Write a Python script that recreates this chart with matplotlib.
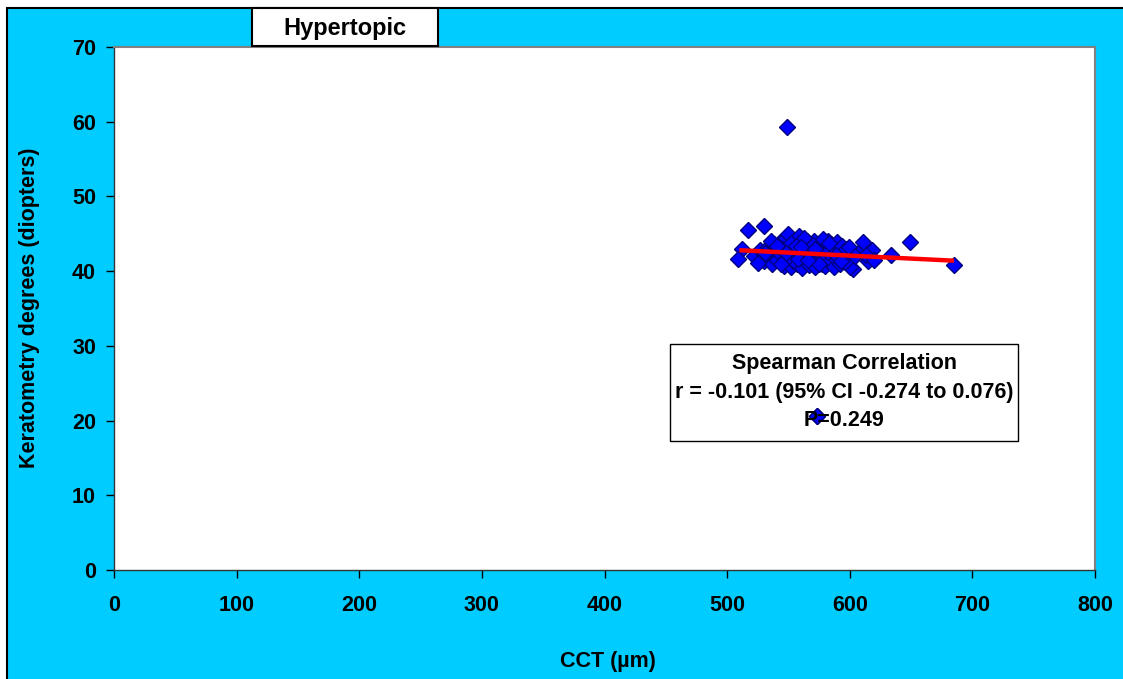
import matplotlib
matplotlib.use("Agg")
import matplotlib.pyplot as plt
from matplotlib.patches import Rectangle

plt.rcParams["font.family"] = ["Liberation Sans", "DejaVu Sans"]
plt.rcParams["font.weight"] = "bold"

# CCT (µm) vs keratometry (D), hypertopic group
cct = [549, 573, 517, 530, 512, 509, 649, 685, 634, 611, 618, 603, 615, 607,
       522, 527, 530, 533, 535, 537, 538, 540, 541, 543, 544, 546, 547, 548,
       549, 550, 551, 552, 553, 554, 555, 556, 557, 558, 559, 560, 561, 562,
       563, 564, 565, 566, 567, 568, 569, 570, 571, 572, 573, 574, 575, 576,
       577, 578, 579, 580, 581, 582, 583, 584, 585, 586, 587, 588, 589, 590,
       591, 592, 594, 595, 597, 599, 600, 596, 545, 558, 563, 570, 575, 582,
       552, 536, 541, 548, 556, 566, 578, 589, 531, 544, 560, 572, 583, 593,
       525, 604, 613, 620]
kera = [59.3, 20.6, 45.5, 46.0, 43.0, 41.6, 43.9, 40.8, 42.2, 43.9, 42.8, 40.3,
        41.3, 42.4, 42.0, 42.8, 41.3, 43.2, 42.1, 40.9, 43.6, 42.6, 41.5, 43.9,
        42.2, 40.7, 43.1, 44.4, 41.9, 45.0, 42.7, 40.5, 43.5, 41.4, 44.2, 42.3,
        40.9, 43.0, 44.7, 41.8, 40.4, 43.7, 42.5, 41.2, 44.0, 42.9, 40.8, 43.3,
        41.6, 42.2, 44.1, 40.6, 43.0, 41.9, 42.7, 43.8, 41.0, 42.4, 43.4, 40.7,
        41.7, 44.0, 42.9, 41.3, 43.6, 42.1, 40.5, 43.1, 41.6, 43.9, 42.6, 40.9,
        43.3, 41.8, 42.9, 43.2, 40.6, 41.2, 42.9, 41.6, 44.4, 43.5, 40.9, 42.5,
        43.8, 44.1, 43.3, 42.4, 43.4, 41.5, 44.3, 42.2, 42.4, 41.0, 43.2, 42.9,
        43.7, 41.4, 41.1, 42.0, 42.1, 41.5]

# trend line end points
fit_x = [510, 685]
fit_y = [42.8, 41.4]

x_ticks = [0, 100, 200, 300, 400, 500, 600, 700, 800]
y_ticks = [0, 10, 20, 30, 40, 50, 60, 70]

stats_lines = ["Spearman Correlation",
               "r = -0.101 (95% CI -0.274 to 0.076)",
               "P=0.249"]

W, H = 1123, 679
FS = 15.5
MS = 8.5
fig = plt.figure(figsize=(W / 100, H / 100), dpi=100, facecolor="white")

# cyan chart area with black outline, behind everything
fig.patches.append(Rectangle((7 / W, -0.01), 1.0, (H - 8) / H + 0.01,
                             transform=fig.transFigure, facecolor="#00CCFF",
                             edgecolor="black", linewidth=1.5, zorder=-10))

ax = fig.add_axes([114 / W, 1 - 570 / H, (1095 - 114) / W, (570 - 47) / H])
ax.set_facecolor("white")

ax.plot(cct, kera, "D", color="#0000FF", markeredgecolor="#000080",
        markersize=MS, markeredgewidth=1.0, zorder=3, clip_on=False)
ax.plot(fit_x, fit_y, color="#FF0000", linewidth=3.2, zorder=4,
        solid_capstyle="butt")

ax.set_xlim(0, 800)
ax.set_ylim(0, 70)
ax.set_xticks(x_ticks)
ax.set_yticks(y_ticks)
ax.tick_params(direction="out", length=6, width=1, labelsize=FS)
ax.tick_params(axis="x", pad=12)
ax.tick_params(axis="y", pad=7)
for lab in ax.get_xticklabels() + ax.get_yticklabels():
    lab.set_fontweight("bold")

for side in ("top", "right"):
    ax.spines[side].set_color("#808080")
    ax.spines[side].set_linewidth(1.5)
for side in ("left", "bottom"):
    ax.spines[side].set_color("#333333")
    ax.spines[side].set_linewidth(1.0)

fig.text(608 / W, 1 - 662 / H, "CCT (µm)", ha="center", va="center",
         fontsize=FS, fontweight="bold")
fig.text(30 / W, 1 - 308 / H, "Keratometry degrees (diopters)", ha="center",
         va="center", rotation=90, fontsize=FS, fontweight="bold")

# title box
fig.patches.append(Rectangle((252 / W, 1 - 46 / H), 186 / W, 38 / H,
                             transform=fig.transFigure, facecolor="white",
                             edgecolor="black", linewidth=1.5, zorder=2))
fig.text(345 / W, 1 - 28 / H, "Hypertopic", ha="center", va="center",
         fontsize=17, fontweight="bold", zorder=3)

# correlation box
ax.add_patch(Rectangle((670 / W, 1 - 441 / H), 348 / W, 97 / H,
                       transform=fig.transFigure, facecolor="white",
                       edgecolor="black", linewidth=1.0, zorder=2))
for i, line in enumerate(stats_lines):
    fig.text(844 / W, 1 - (364 + 28.5 * i) / H, line, ha="center", va="center",
             fontsize=FS, fontweight="bold", zorder=5)

# low outlier sits on top of the box
ax.plot(cct[1], kera[1], "D", color="#0000FF", markeredgecolor="#000080",
        markersize=MS, markeredgewidth=1.0, zorder=6)

fig.savefig("out.png", dpi=100)
